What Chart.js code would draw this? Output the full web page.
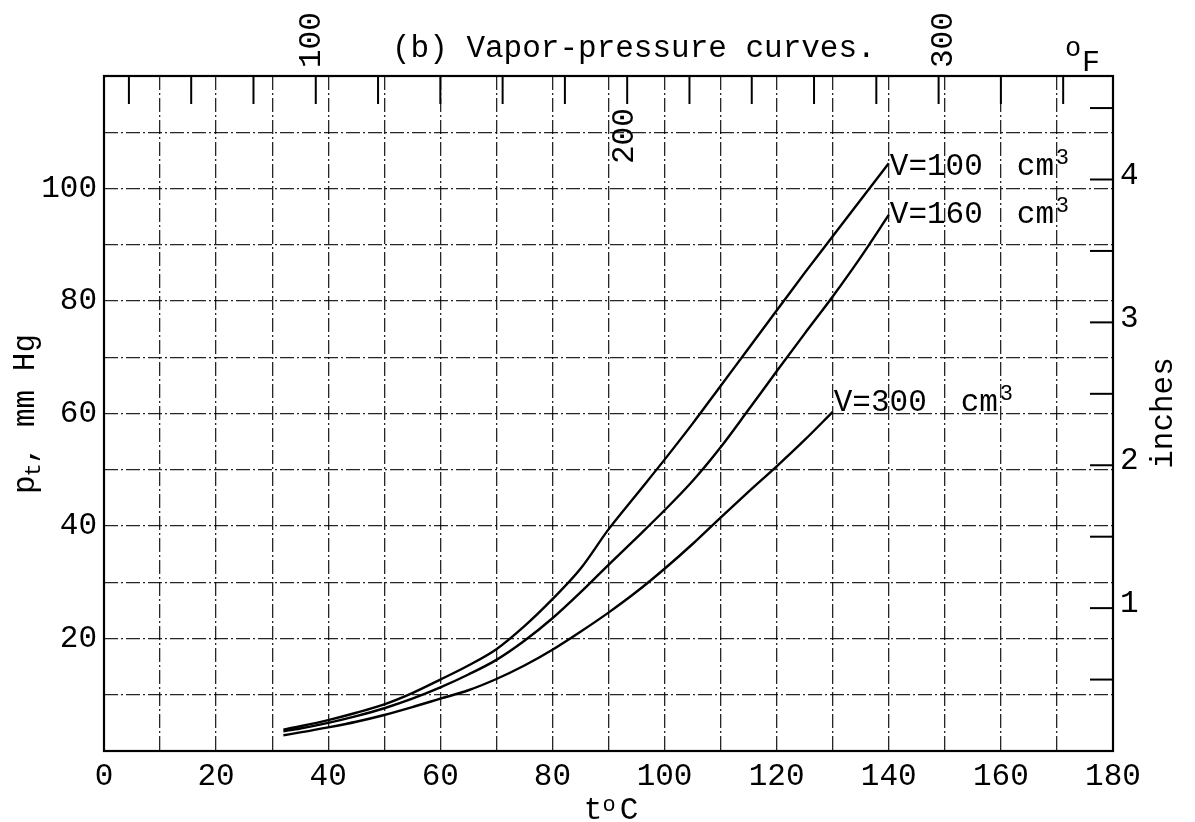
<!DOCTYPE html>
<html>
<head>
<meta charset="utf-8">
<script src="https://cdn.jsdelivr.net/npm/chart.js@4.4.1/dist/chart.umd.min.js"></script>
<style>
  html, body { margin: 0; padding: 0; background: #fff; }
  canvas { display: block; }
</style>
</head>
<body>
<canvas id="vaporChart" width="1195" height="822"></canvas>
<script>
// temperatures (deg C) and total pressure p_t (mm Hg)
const tempC = [32, 35, 40, 45, 50, 55, 60, 65, 70, 75, 80, 85, 90, 95, 100, 105, 110, 115, 120, 125, 130, 135, 140];
const pV100 = [3.8, 4.4, 5.5, 6.8, 8.3, 10.3, 12.7, 15.2, 18.1, 22.2, 27.0, 32.4, 39.4, 45.6, 51.8, 58.2, 64.9, 71.6, 78.3, 85.0, 91.5, 98.0, 104.5];
const pV160 = [3.5, 4.0, 5.0, 6.2, 7.6, 9.3, 11.3, 13.6, 16.2, 19.6, 23.6, 28.2, 33.1, 37.9, 42.8, 48.0, 54.0, 60.7, 67.5, 74.2, 80.8, 87.8, 95.3];
const tempC300 = [32, 35, 40, 45, 50, 55, 60, 65, 70, 75, 80, 85, 90, 95, 100, 105, 110, 115, 120, 125, 130];
const pV300 = [2.8, 3.3, 4.2, 5.2, 6.4, 7.8, 9.3, 10.8, 12.8, 15.2, 18.0, 21.2, 24.6, 28.3, 32.4, 36.8, 41.5, 46.1, 50.6, 55.3, 60.3];

const curveNames = ["V=100", "V=160", "V=300"];
const xTickLabels = [0, 20, 40, 60, 80, 100, 120, 140, 160, 180];
const yTickLabels = [20, 40, 60, 80, 100];
const fahrenheitTicks = [40, 60, 80, 100, 120, 140, 160, 180, 200, 220, 240, 260, 280, 300, 320, 340];
const fahrenheitLabels = [100, 200, 300];
const inchTicks = [0.5, 1, 1.5, 2, 2.5, 3, 3.5, 4, 4.5];
const inchLabels = [1, 2, 3, 4];

const FONT = "'Liberation Mono', 'Courier New', monospace";

function toPoints(xs, ys) {
    return xs.map((x, i) => ({ x: x, y: ys[i] }));
}

function text(ctx, s, x, y, size, align) {
    ctx.font = size + "px " + FONT;
    ctx.textAlign = align || "left";
    ctx.textBaseline = "middle";
    ctx.fillText(s, x, y);
}

// frame, secondary scales (deg F on top, inches on the right), titles, curve labels
const decorations = {
    id: "decorations",
    afterDraw(chart) {
        const { ctx, chartArea: a, scales: { x, y } } = chart;
        ctx.save();
        ctx.strokeStyle = "#000";
        ctx.fillStyle = "#000";

        ctx.lineWidth = 2.2;
        ctx.strokeRect(a.left, a.top, a.right - a.left, a.bottom - a.top);

        // deg F ticks hanging down from the top edge
        ctx.lineWidth = 2;
        fahrenheitTicks.forEach(f => {
            const px = x.getPixelForValue((f - 32) * 5 / 9);
            ctx.beginPath();
            ctx.moveTo(px, a.top);
            ctx.lineTo(px, a.top + 28);
            ctx.stroke();
        });
        fahrenheitLabels.forEach(f => {
            const px = x.getPixelForValue((f - 32) * 5 / 9);
            ctx.save();
            if (f === 200) {
                ctx.translate(px - 2, a.top + 88);
            } else {
                ctx.translate(px + (f === 100 ? -4 : 5), a.top - 8);
            }
            ctx.rotate(-Math.PI / 2);
            text(ctx, String(f), 0, 0, 31, "left");
            ctx.restore();
        });
        text(ctx, "o", 1073, 49, 27, "center");
        text(ctx, "F", 1091, 63, 30, "center");

        // inch ticks pointing in from the right edge
        inchTicks.forEach(i => {
            const py = y.getPixelForValue(i * 25.4);
            ctx.beginPath();
            ctx.moveTo(a.right - 23, py);
            ctx.lineTo(a.right, py);
            ctx.stroke();
        });
        inchLabels.forEach(i => {
            text(ctx, String(i), a.right + 7, y.getPixelForValue(i * 25.4) - 4, 31, "left");
        });

        // title
        text(ctx, "(b) Vapor-pressure curves.", 392, 49, 31, "left");

        // x axis title t°C
        text(ctx, "t", 593, 811, 31, "center");
        text(ctx, "o", 609, 805, 22, "center");
        text(ctx, "C", 629, 811, 31, "center");

        // left axis title p_t, mm Hg
        ctx.save();
        ctx.translate(26, 494);
        ctx.rotate(-Math.PI / 2);
        text(ctx, "p", 0, 0, 31, "left");
        ctx.font = "31px " + FONT;
        const pw = ctx.measureText("p").width;
        text(ctx, "t", pw - 1, 8, 22, "left");
        ctx.font = "22px " + FONT;
        const tw = ctx.measureText("t").width;
        text(ctx, ", mm Hg", pw + tw - 2, 0, 31, "left");
        ctx.restore();

        // right axis title
        ctx.save();
        ctx.translate(1164, 413);
        ctx.rotate(-Math.PI / 2);
        text(ctx, "inches", 0, 0, 31, "center");
        ctx.restore();

        // curve labels at the end of each curve
        const labelShift = [4, 0, -9];
        chart.data.datasets.forEach((ds, k) => {
            const last = ds.data[ds.data.length - 1];
            const px = x.getPixelForValue(last.x);
            const py = y.getPixelForValue(last.y) + labelShift[k];
            text(ctx, curveNames[k], px + 1, py, 31, "left");
            text(ctx, "cm", px + 128, py, 31, "left");
            text(ctx, "3", px + 167, py - 9, 22, "left");
        });

        ctx.restore();
    }
};

const gridLines = { color: "rgba(0,0,0,0.85)", lineWidth: 1.3, drawTicks: false };
const gridBorder = { display: false, dash: [14, 3, 2, 3] };
const tickFont = { family: FONT, size: 31 };

const curveStyle = {
    borderColor: "#000",
    borderWidth: 2.4,
    pointRadius: 0,
    fill: false,
    cubicInterpolationMode: "monotone"
};

const ctx = document.getElementById("vaporChart").getContext("2d");
const vaporChart = new Chart(ctx, {
    type: "line",
    data: {
        datasets: [
            Object.assign({ label: curveNames[0], data: toPoints(tempC, pV100) }, curveStyle),
            Object.assign({ label: curveNames[1], data: toPoints(tempC, pV160) }, curveStyle),
            Object.assign({ label: curveNames[2], data: toPoints(tempC300, pV300) }, curveStyle)
        ]
    },
    options: {
        responsive: false,
        animation: false,
        devicePixelRatio: 1,
        layout: { padding: { top: 76, right: 82, left: 0, bottom: 0 } },
        plugins: {
            legend: { display: false },
            tooltip: { enabled: false }
        },
        scales: {
            x: {
                type: "linear",
                min: 0,
                max: 180,
                ticks: {
                    stepSize: 10,
                    autoSkip: false,
                    maxRotation: 0,
                    padding: 7,
                    color: "#000",
                    font: tickFont,
                    callback: v => xTickLabels.includes(v) ? String(v) : ""
                },
                grid: gridLines,
                border: gridBorder,
                afterFit: s => { s.height = 71; }
            },
            y: {
                type: "linear",
                min: 0,
                max: 120,
                ticks: {
                    stepSize: 10,
                    autoSkip: false,
                    padding: 7,
                    color: "#000",
                    font: tickFont,
                    callback: v => yTickLabels.includes(v) ? String(v) : ""
                },
                grid: gridLines,
                border: gridBorder,
                afterFit: s => { s.width = 104; }
            }
        }
    },
    plugins: [decorations]
});
</script>
</body>
</html>
